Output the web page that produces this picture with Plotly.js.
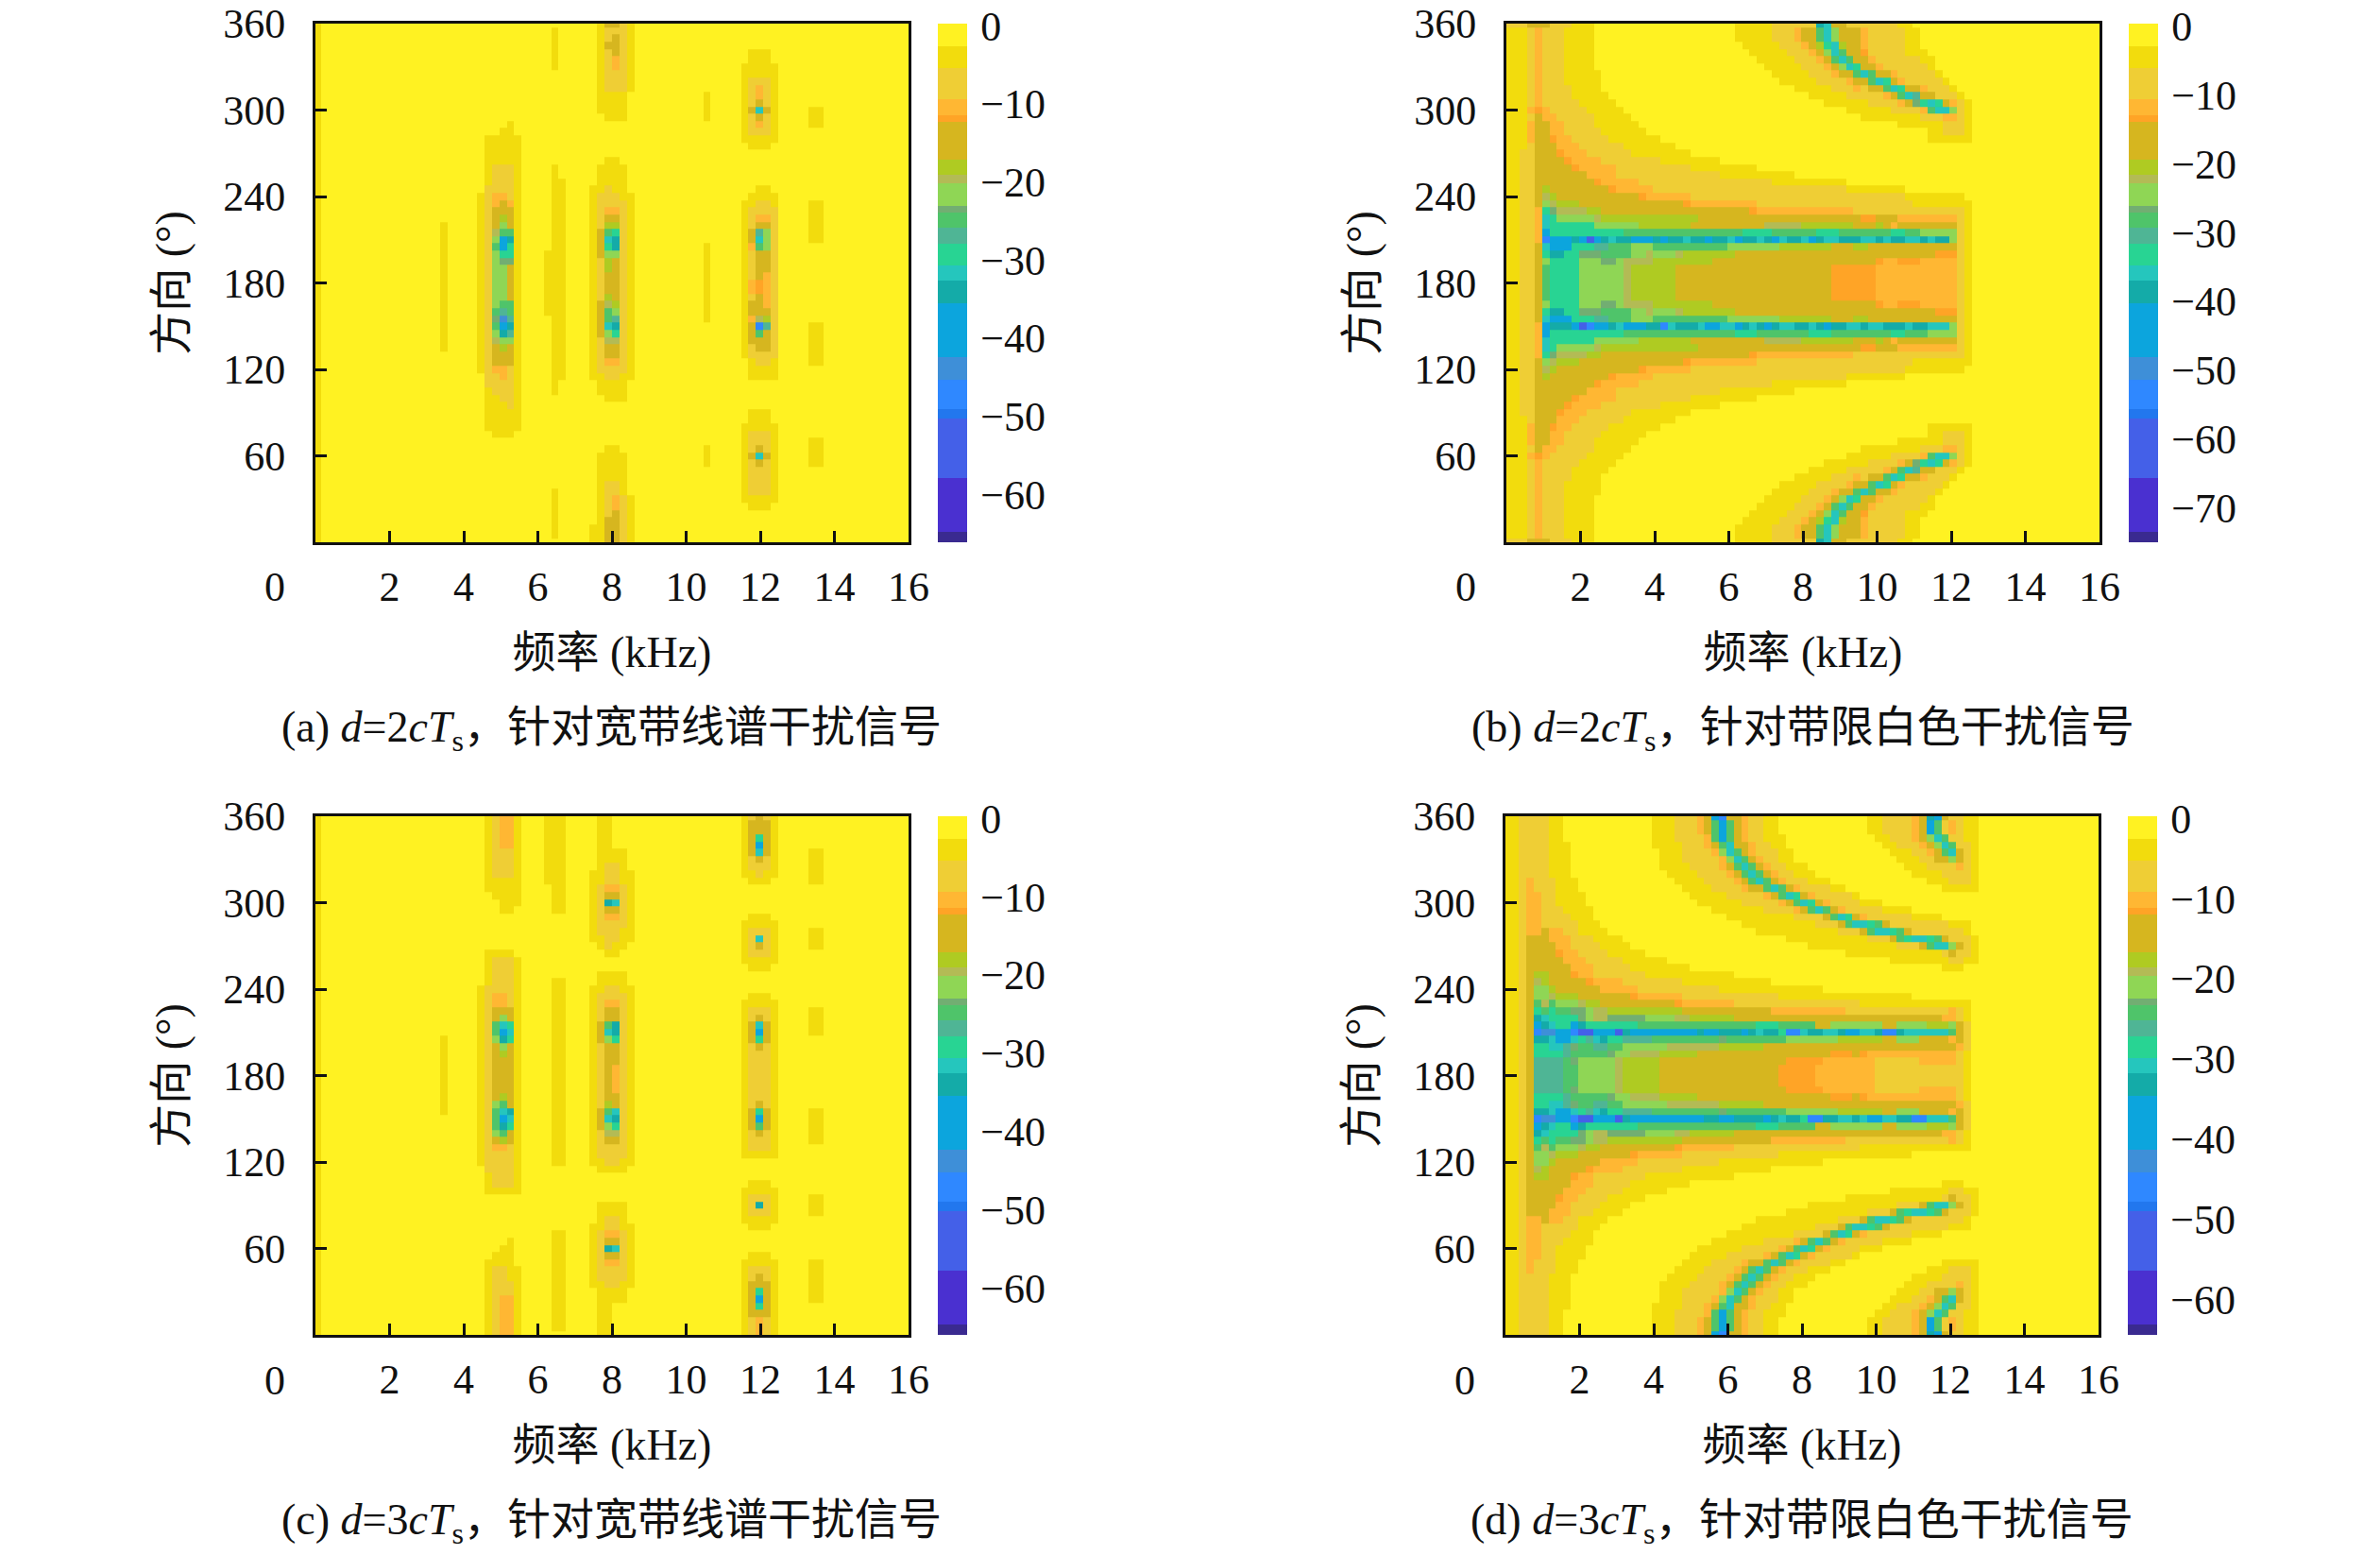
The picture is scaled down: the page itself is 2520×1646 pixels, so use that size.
<!DOCTYPE html>
<html>
<head>
<meta charset="utf-8">
<script src="https://cdn.plot.ly/plotly-3.0.1.min.js"></script>
<style>html,body{margin:0;background:#fff}</style>
</head>
<body>
<div id="chart"></div>
<script>
// colormap bands, top of the colour bar first; edges are fractions of the bar
const bandKeys = '0123456789abcdefghijkl'
const bandColors = ['#FFF222', '#F2DC0D', '#EFCE35', '#FFB733', '#FFA426', '#D6B61F', '#AFCB22', '#B3BB55', '#8FD655', '#72AE72', '#4FC46A', '#4FB595', '#28D493', '#25C6BD', '#14ABA8', '#0CA5DD', '#3E8FD8', '#2F88FF', '#2277EE', '#4460E8', '#4A30D0', '#3A2A90']
const bandEdges = [0, .043, .086, .146, .176, .189, .262, .292, .307, .351, .365, .394, .424, .467, .496, .540, .643, .686, .744, .761, .877, .980, 1]

const dirs = Array.from({ length: 73 }, (_, i) => i * 5)
const freqTicks = [2, 4, 6, 8, 10, 12, 14, 16]
const dirTicks = [60, 120, 180, 240, 300, 360]
const freqLine = [0, .16, 3.36, 3.56, 4.36, 4.56, 4.76, 4.96, 5.16, 5.36, 5.56, 6.16, 6.36, 6.56, 6.76, 7.4, 7.6, 7.8, 8, 8.2, 8.4, 8.6, 10.46, 10.66, 11.48, 11.68, 11.88, 12.08, 12.28, 12.48, 13.3, 13.5, 13.7, 16]
const freqWhite = [0].concat(Array.from({ length: 80 }, (_, i) => .16 + i * .2), [16])

// rows from 360 down to 0, one group per active frequency column
const rowsA = [
  '1 0 000000 000 015521 0 00000 00', '1 0 000000 010 012221 0 00000 00', '1 0 000000 010 012521 0 00000 00',
  '1 0 000000 010 015521 0 00000 00', '1 0 000000 010 012521 0 01110 00', '1 0 000000 010 012321 0 01110 00',
  '1 0 000000 010 012321 0 11111 00', '1 0 000000 000 012221 0 11111 00', '1 0 000000 000 012221 0 12221 00',
  '1 0 000000 000 012221 0 12321 00', '1 0 000000 000 011110 1 12321 00', '1 0 000000 000 011110 1 12521 00',
  '1 0 000000 000 011110 1 15d51 11', '1 0 000000 000 001110 1 12521 11', '1 0 000010 000 000000 0 12321 11',
  '1 0 000110 000 000000 0 12221 00', '1 0 011111 000 000000 0 11111 00', '1 0 011111 000 000000 0 01110 00',
  '1 0 011111 000 000000 0 00000 00', '1 0 011111 000 001100 0 00000 00', '1 0 012221 010 011110 0 00000 00',
  '1 0 012221 010 011110 0 00000 00', '1 0 012221 011 011110 0 00000 00', '1 0 022221 011 112110 0 00110 00',
  '1 0 123321 011 122211 0 01111 00', '1 0 123531 011 122221 0 11221 11', '1 0 125551 011 123321 0 12222 11',
  '1 0 125651 011 125521 0 12332 11', '1 1 125851 011 126621 0 12552 11', '1 1 127aa1 011 15ac21 0 15b82 11',
  '1 1 128fe1 011 15de21 0 15d82 11', '1 1 12afc1 011 15ce21 1 13a82 00', '1 1 128cc1 111 158821 1 12552 00',
  '1 1 128991 111 126521 1 12552 00', '1 1 128851 111 126521 1 12552 00', '1 1 128851 111 125521 1 12532 00',
  '1 1 128851 111 125521 1 13432 00', '1 1 128851 111 125521 1 13432 00', '1 1 128851 111 126521 1 12532 00',
  '1 1 128aa1 111 157621 1 15532 00', '1 1 12aba1 111 15a821 1 15552 00', '1 1 129gb1 011 15ab21 1 13762 00',
  '1 1 12afe1 011 15de21 0 15hb2 11', '1 1 128eb1 011 158c21 0 15a52 11', '1 1 127881 011 127721 0 15552 11',
  '1 1 125651 011 125521 0 12552 11', '1 0 125551 011 125521 0 12222 11', '1 0 125551 011 123321 0 01221 11',
  '1 0 123321 011 122221 0 01111 00', '1 0 022321 011 112211 0 01111 00', '1 0 022221 010 011110 0 00000 00',
  '1 0 012221 010 011110 0 00000 00', '1 0 011221 000 001110 0 00000 00', '1 0 011121 000 000000 0 00000 00',
  '1 0 011111 000 000000 0 01110 00', '1 0 011111 000 000000 0 01110 00', '1 0 011111 000 000000 0 11111 00',
  '1 0 001110 000 000000 0 12221 00', '1 0 000000 000 000000 0 12221 11', '1 0 000000 000 001100 1 12521 11',
  '1 0 000000 000 011110 1 15d51 11', '1 0 000000 000 011110 1 12521 11', '1 0 000000 000 011110 0 12221 00',
  '1 0 000000 000 011110 0 12221 00', '1 0 000000 000 012210 0 12221 00', '1 0 000000 010 012210 0 12221 00',
  '1 0 000000 010 012321 0 11111 00', '1 0 000000 010 012321 0 01110 00', '1 0 000000 010 012521 0 00000 00',
  '1 0 000000 010 015521 0 00000 00', '1 0 000000 010 115521 0 00000 00', '1 0 000000 010 115521 0 00000 00',
  '1 0 000000 000 115521 0 00000 00',
]

const rowsC = [
  '1 0 012331 111 011000 0 12521 00', '1 0 012331 111 011000 0 15551 00', '1 0 012331 111 011000 0 15551 00',
  '1 0 012331 111 011000 0 15c51 00', '1 0 012331 111 011000 0 15f51 00', '1 0 012221 111 011110 0 15d51 11',
  '1 0 012221 111 011110 0 12521 11', '1 0 012221 111 012210 0 12221 11', '1 0 012221 111 112211 0 11211 11',
  '1 0 011111 111 112211 0 01110 11', '1 0 011111 011 123321 0 00000 00', '1 0 001111 011 125521 0 00000 00',
  '1 0 000111 011 12ed21 0 00000 00', '1 0 000110 011 125521 0 00000 00', '1 0 000000 000 123321 0 01110 00',
  '1 0 000000 000 122221 0 11111 00', '1 0 000000 000 122211 0 12221 11', '1 0 000000 000 112211 0 12d21 11',
  '1 0 000000 000 012110 0 12521 11', '1 0 011110 000 001100 0 12221 00', '1 0 012221 000 000000 0 11111 00',
  '1 0 012221 000 000000 0 01110 00', '1 0 012221 000 011110 0 00000 00', '1 0 012221 011 011110 0 00000 00',
  '1 0 122221 011 112211 0 00000 00', '1 0 123321 011 122221 0 01110 00', '1 0 123321 011 123321 0 11111 00',
  '1 0 125551 011 125521 0 12221 11', '1 0 125851 011 125521 0 12521 11', '1 0 12adc1 011 15ae21 0 15d51 11',
  '1 0 12afd1 011 15de21 0 15f51 11', '1 1 128ec1 011 158c21 0 15c51 00', '1 1 125851 011 125521 0 12521 00',
  '1 1 125651 011 125521 0 12221 00', '1 1 125551 011 125521 0 12221 00', '1 1 125551 011 125321 0 12221 00',
  '1 1 125551 011 125321 0 12221 00', '1 1 125551 011 125321 0 12221 00', '1 1 125551 011 125321 0 12221 00',
  '1 1 125651 011 125521 0 12221 00', '1 1 128a51 011 126521 0 12521 00', '1 1 12ade1 011 15ad21 0 15c51 11',
  '1 0 12afd1 011 15de21 0 15f51 11', '1 0 12aec1 011 158c21 0 15a51 11', '1 0 128a51 011 127721 0 12521 11',
  '1 0 125651 011 125521 0 12221 11', '1 0 123321 011 122221 0 12221 00', '1 0 122221 011 122221 0 11111 00',
  '1 0 122221 011 112211 0 00000 00', '1 0 022221 000 011110 0 00000 00', '1 0 012221 000 000000 0 00000 00',
  '1 0 012221 000 000000 0 01110 00', '1 0 011111 000 000000 0 11111 00', '1 0 000000 000 000000 0 12221 11',
  '1 0 000000 000 011110 0 12e21 11', '1 0 000000 000 011110 0 12221 11', '1 0 000000 000 012210 0 11111 00',
  '1 0 000000 000 112211 0 01110 00', '1 0 000000 011 123321 0 00000 00', '1 0 000010 011 125521 0 00000 00',
  '1 0 000110 011 12ed21 0 00000 00', '1 0 001110 011 125521 0 01110 00', '1 0 011110 011 123321 0 11111 11',
  '1 0 012211 011 122221 0 12221 11', '1 0 012211 011 122221 0 12521 11', '1 0 012221 011 112211 0 15551 11',
  '1 0 012221 011 011110 0 15c51 11', '1 0 012331 011 011110 0 15f51 11', '1 0 012331 011 011000 0 15c51 00',
  '1 0 012331 011 011000 0 15551 00', '1 0 012331 011 011000 0 12321 00', '1 0 012331 011 011000 0 12321 00',
  '1 0 012331 000 011000 0 12321 00',
]

// rows from 0 up to 360, as level x run length
const rowsB = [
  '2x3 5x3 2x3 1x3 0x19 1x5 2x6 e d 5x2 2x7 1x2',
  '1x3 2 3 2x3 1x4 0x19 1x5 2x3 3 5x2 a d 8 5x3 3 2x5 1x2',
  '1x3 2 3 2x3 1x4 0x19 1x5 2x3 3 5x2 a d 8 5x3 3 2x5 1x2',
  '1x3 2 3 2x3 1x4 0x20 1x5 2x3 3 5 6 c d 6 5x2 3 2x5 1x2',
  '1x3 2 3 2x3 1x4 0x21 1x5 2x3 3 5 8 d a 5x2 4 2x5 1x3',
  '1x3 2 3 2x3 1x4 0x22 1x5 2x3 3 5 a d a 5x2 3 2x6 1x2',
  '1x3 2 3 2x3 1x4 0x23 1x5 2x3 3 5 8 d c 5x2 3 2x6 1',
  '1x3 2 3 2x3 1x5 0x23 1x5 2x3 3 5x2 a d a 5x2 3 2x5 1',
  '1x3 2 3 2x3 1x5 0x24 1x5 2x4 3 5x2 a d c 5 3 2x5 1',
  '1x3 2 3 2x4 1x4 0x26 1x5 2x3 3 2 5x2 a d c 5x2 3 2x3 1',
  '1x3 2 3 2x4 1x5 0x27 1x5 2x5 3 5 a d b 5x2 2x3 1',
  '1x3 2 3 2x5 1x5 0x28 1x6 2x4 3 5 9 c d c 5 3 2 1',
  '1x3 3 4 3 2x5 1x5 0x30 1x6 2x4 3 a d x2 8 2 1'.replace('d x2', 'dx2'),
  '1x3 2 5 3x2 2x5 1x5 0x31 1x8 2x3 3x2 2 1',
  '1x3 3 5x2 3x2 2x4 1x6 0x35 1x6 2x3 1',
  '1x3 3 5x2 3x2 2x5 1x6 0x38 1x2 2x3 1',
  '1x3 3 5x2 4 3x2 2x5 1x7 0x36 1x6',
  '1x3 2 5x3 3x3 2x6 1x7',
  '1x2 2x2 5x3 4 3x3 2x6 1x8',
  '1x2 2x2 5x4 4 3x4 2x8 1x8',
  '1x2 2x2 5x5 4 3x5 2x10 1x9',
  '1x2 2x2 5x7 3x4 2x14 1x10',
  '1x2 2x2 5x8 4 3x5 2x18 1x10',
  '1x2 2x2 5 6 5x8 4 3x5 2x26 1x8',
  '1x2 2x2 5 7 6 5x11 4 3x6 2x29 1x8',
  '1x2 2x2 5 8 7 6x3 5x14 4 3x9 2x21 1x8',
  '1x2 2x2 3 c 9 7x4 6x2 5x20 4 3x13 2x15 1',
  '1x2 2x2 3 d c 8x5 7 6x13 5x22 4x2 5x3 3x8 2 1',
  '1x2 2x2 3 d cx6 8x6 6x7 5x10 7x5 6x7 5x3 6 5 3 5x8 2 1',
  '1x2 2x2 3 f cx4 cx6 ax8 ax7 cx3 ax2 ax5 cx3 ax3 ax5 cx2 ax3 8x4 2 1',
  '1x2 2x2 3 f ex3 f j h fx2 e d fx3 ex2 h d ex3 d fx2 dx2 f e d e f e dx2 ex2 d e f ex2 dx2 e dx2 ex3 d ex2 dx3 8 2 1',
  '1x2 2x2 5 d fx3 cx3 bx2 ax3 8x3 ax2 ax8 8x7 6x7 5x3 6x2 5x12 2 1',
  '1x2 2x2 5 c ex2 cx2 9x3 ax4 8x2 7 8x3 7 6x7 5x27 4x3 2 1',
  '1x2 2x2 5 8 cx4 8x3 9x2 8 7x4 6x8 5x22 4 3x2 4x3 3x5 2 1',
  '1x2 2x2 5 a cx4 8x6 7 6x6 5x21 4x6 3x11 2 1',
  '1x2 2x2 5 a cx4 8x6 7 6x6 5x21 4x6 3x11 2 1',
  '1x2 2x2 5 a cx4 8x6 7 6x6 5x21 4x6 3x11 2 1',
  '1x2 2x2 5 a cx4 8x6 7 6x6 5x21 4x6 3x11 2 1',
  '1x2 2x2 5 a cx4 8x6 7 6x6 5x21 4x6 3x11 2 1',
  '1x2 2x2 5 8 cx4 8x3 9x2 8 7x4 6x8 5x22 4 3x2 4x3 3x5 2 1',
  '1x2 2x2 5 c ex2 cx2 9x3 ax4 8x2 7 8x3 7 6x7 5x27 4x3 2 1',
  '1x2 2x2 5 d fx3 cx3 bx2 ax3 8x3 ax2 ax8 8x7 6x7 5x3 6x2 5x12 2 1',
  '1x2 2x2 3 h fx3 e f j f e d ex2 fx3 e f ex2 d ex2 f ex2 d f ex2 d e f d ex2 d f e dx2 ex3 dx2 e d ex2 dx2 e d ex2 8 2 1',
  '1x2 2x2 3 f cx4 cx6 ax8 ax8 cx4 ax4 ax2 cx3 ax3 ax4 cx2 ax2 8x5 2 1',
  '1x2 2x2 3 d cx6 8x6 6x7 5x10 7x5 6x7 5x3 6 5 3 5x8 2 1',
  '1x2 2x2 3 d c 8x5 7 6x13 5x22 4x2 5x3 3x8 2 1',
  '1x2 2x2 3 c 9 7x4 6x2 5x20 4 3x13 2x15 1',
  '1x2 2x2 5 8 7 6x3 5x14 4 3x9 2x21 1x8',
  '1x2 2x2 5 7 6 5x11 4 3x6 2x29 1x8',
  '1x2 2x2 5 6 5x8 4 3x5 2x26 1x8',
  '1x2 2x2 5x8 4 3x5 2x18 1x10',
  '1x2 2x2 5x7 3x4 2x14 1x10',
  '1x2 2x2 5x5 4 3x5 2x10 1x9',
  '1x2 2x2 5x4 4 3x4 2x8 1x8',
  '1x2 2x2 5x3 4 3x3 2x6 1x8',
  '1x3 2 5x3 3x3 2x6 1x7',
  '1x3 3 5x2 4 3x2 2x5 1x7 0x36 1x6',
  '1x3 3 5x2 3x2 2x5 1x6 0x38 1x2 2x3 1',
  '1x3 3 5x2 3x2 2x4 1x6 0x35 1x6 2x3 1',
  '1x3 2 5 3x2 2x5 1x5 0x31 1x8 2x3 3x2 2 1',
  '1x3 3 4 3 2x5 1x5 0x30 1x6 2x4 3 a dx2 8 2 1',
  '1x3 2 3 2x5 1x5 0x28 1x6 2x4 3 5 9 c d c 5 3 2 1',
  '1x3 2 3 2x4 1x5 0x27 1x5 2x5 3 5 a d b 5x2 2x3 1',
  '1x3 2 3 2x4 1x4 0x26 1x5 2x3 3 2 5x2 a d c 5x2 3 2x3 1',
  '1x3 2 3 2x3 1x5 0x24 1x5 2x4 3 5x2 a d c 5 3 2x5 1',
  '1x3 2 3 2x3 1x5 0x23 1x5 2x3 3 5x2 a d a 5x2 3 2x5 1',
  '1x3 2 3 2x3 1x4 0x23 1x5 2x3 3 5 8 d c 5x2 3 2x6 1',
  '1x3 2 3 2x3 1x4 0x22 1x5 2x3 3 5 a d a 5x2 3 2x6 1x2',
  '1x3 2 3 2x3 1x4 0x21 1x5 2x3 3 5 8 d a 5x2 4 2x5 1x3',
  '1x3 2 3 2x3 1x4 0x20 1x5 2x3 3 5 6 c d 6 5x2 3 2x5 1x2',
  '1x3 2 3 2x3 1x4 0x19 1x5 2x3 3 5x2 a d 8 5x3 3 2x5 1x2',
  '1x3 2 3 2x3 1x4 0x19 1x5 2x3 3 5x2 a d 8 5x3 3 2x5 1x2',
  '2x3 5x3 2x3 1x3 0x19 1x5 2x6 e d 5x2 2x7 1x2',
]

const rowsD = [
  '1x2 2x4 1x2 0x12 1x3 2x3 3 5 f h 5x2 3 2x2 1x2 0x12 1x2 2x4 3 5 e f 5 2x2 1x2',
  '1x2 2x4 1x2 0x12 1x3 2x3 3 5 a f a 5 3 2x2 1x2 0x12 1x2 2x4 3 5 f a 2 3 2 1x2',
  '1x2 2x4 1x2 0x12 1x3 2x3 3 5 a f a 5 3 2x2 1x2 0x12 1x2 2x4 3 5 f a 2 3 2 1x2',
  '1x2 2x4 1x2 0x12 1x3 2x4 3 a f a 5 3 2x2 1x3 0x12 1x2 2x3 3 5 8 d a 2x2 1x2',
  '1x2 2x4 1x3 0x11 1x4 2x3 3 5 a d 5x2 3 2x2 1x2 0x13 1x2 2x3 3 5 8 d a 2x2 1',
  '1x2 2x4 1x3 0x12 1x3 2x4 3 8 d a 5 3 2x3 1x2 0x13 1x3 2x2 3 5 a d 5 2 1',
  '1x2 2x4 1x3 0x12 1x3 2x5 3 8 d a 5 3 2x2 1x2 0x14 1x3 2x2 5x2 8 5 2 1',
  '1x2 2x4 1x3 0x12 1x4 2x4 3 5 a d a 5 3 2x2 1x3 0x13 1x3 2x4 3 2 1',
  '1x2 2x4 1x3 0x13 1x4 2x4 3 5 a d a 5 3 2x2 1x3 0x13 1x4 2x4 1',
  '1x2 2 3 2x3 1x3 0x13 1x4 2x4 3 5 a d a 5 3 2x3 1x3 0x13 1x3 2x3 1',
  '1x2 2 3 2x3 1x3 0x14 1x4 2x4 3 5x2 a d a 5 3 2x4 1x2 0x13 1x5',
  '1x2 2 3x2 2x2 1x4 0x14 1x5 2x5 3 5 a d c 5 3 2x5 1',
  '1x2 2 3x2 2x2 1x4 0x15 1x6 2x5 3 5 a d c 5 3 2x4 1x3',
  '1x2 2 3x2 2x3 1x4 0x16 1x7 2x4 3 5 a d a 5 3 2x5 1x4',
  '1x2 2 3x2 2x4 1x3 0x18 1x9 2x4 5 a d c 5 3 2x6 1x4',
  '1x2 2 3x2 2x5 1x3 0x19 1x10 2x3 5 a dx2 c a 5 2x8 1x3',
  '1x2 2 3x2 5 3x2 2x2 1x4 0x20 1x11 2x3 5 a dx2 c a 5 2x7 1',
  '1x2 2 5x3 3x3 2x3 1x4 0x22 1x11 2x3 5 a c dx2 c a 5 2x3 1',
  '1x2 2 5x4 3x2 2x4 1x4 0x24 1x12 2x3 5 a dx2 8 5 2 1',
  '1x2 2 5x4 4 3x2 2x4 1x5 0x27 1x13 2 5 2x2 1',
  '1x2 2 5x5 3x3 2x5 1x6 0x30 1x8 2x2 1x2',
  '1x2 2 5x6 3x3 2x5 1x8 0x34 1x3',
  '1x2 2 5 6x2 5x3 4 3x2 2x7 1x12',
  '1x2 2 5 7 6 5x5 4 3x4 2x8 1x12',
  '1x2 2 5 8x2 6 5x6 3x5 2x11 1x14',
  '1x2 2 5 8x2 7 6x3 5x7 4 3x6 2x13 1x18',
  '1x2 2 5 a 7 a 8x3 7 6x2 5x10 4 3x7 2x17 1x15',
  '1x2 2 5 c a c ax2 9x2 8 7x2 6x10 5x12 3x10 2x14 3 2 1',
  '1x2 2 5 e d cx4 9 8 7x2 9x5 8x4 7x2 6x6 5x28 3x2 2 1',
  '1x2 2 5 f e d cx2 f e c cx6 ax8 ax8 cx3 ax5 5x2 8x7 5x2 8x4 6x3 8 5 2',
  '1x2 2 5 h gx2 fx2 h jx2 fx3 j e fx10 ex2 fx2 ex4 f e d ex2 c hx2 ex2 dx2 e d fx2 dx2 ex2 hx2 dx3 a 5 2',
  '1x2 2 5 ex2 d fx2 d c b d e cx2 bx4 ax9 9 ax8 8x7 6x6 5x2 8x3 5x4 3 5 2',
  '1x2 2 5 cx2 dx2 b 9 ax2 bx2 ax2 8x6 7x7 6x6 5x26 3 2',
  '1x2 2 5 cx4 b ax5 9 8x2 7x4 6x5 5x18 4x3 5 4 3x12 2 1',
  '1x2 2 5 bx4 a 9 8x5 7 6x5 5x17 4x5 3x7 2x6 3x5 2 1',
  '1x2 2 5 bx4 ax2 8x5 7 6x5 5x16 4x5 3x8 2x12 1',
  '1x2 2 5 bx4 ax2 8x5 7 6x5 5x16 4x5 3x8 2x12 1',
  '1x2 2 5 bx4 ax2 8x5 7 6x5 5x16 4x5 3x8 2x12 1',
  '1x2 2 5 bx4 a 9 8x5 7 6x5 5x17 4x5 3x7 2x6 3x5 2 1',
  '1x2 2 5 cx4 b ax5 9 8x2 7x4 6x5 5x18 4x3 5 4 3x12 2 1',
  '1x2 2 5 cx2 dx2 b 9 ax2 bx2 ax2 8x6 7x7 6x6 5x26 3 2',
  '1x2 2 5 ex2 d fx2 d c b d e cx2 bx4 ax9 9 ax8 8x7 6x6 5x2 8x3 5x4 3 5 2',
  '1x2 2 5 h gx2 fx2 h jx2 fx3 j e fx9 e fx2 ex3 f e d ex2 c hx2 d ex2 dx2 e fx2 dx2 e hx2 e dx6 a 5 2',
  '1x2 2 5 f e d cx2 f e c cx6 ax8 ax8 cx3 ax5 5x2 8x7 5x2 8x4 6x3 8 5 2',
  '1x2 2 5 e d cx4 9 8 7x2 9x5 8x4 7x2 6x6 5x28 3x2 2 1',
  '1x2 2 5 c a c ax2 9x2 8 7x2 6x10 5x12 3x10 2x14 3 2 1',
  '1x2 2 5 a 7 a 8x3 7 6x2 5x10 4 3x7 2x17 1x15',
  '1x2 2 5 8x2 7 6x3 5x7 4 3x6 2x13 1x18',
  '1x2 2 5 8x2 6 5x6 3x5 2x11 1x14',
  '1x2 2 5 7 6 5x5 4 3x4 2x8 1x12',
  '1x2 2 5 6x2 5x3 4 3x2 2x7 1x12',
  '1x2 2 5x6 3x3 2x5 1x8 0x34 1x3',
  '1x2 2 5x5 3x3 2x5 1x6 0x30 1x8 2x2 1x2',
  '1x2 2 5x4 4 3x2 2x4 1x5 0x27 1x13 2 5 2x2 1',
  '1x2 2 5x4 3x2 2x4 1x4 0x24 1x12 2x3 5 a dx2 8 5 2 1',
  '1x2 2 5x3 3x3 2x3 1x4 0x22 1x11 2x3 5 a c dx2 c a 5 2x3 1',
  '1x2 2 3x2 5 3x2 2x2 1x4 0x20 1x11 2x3 5 a dx2 c a 5 2x7 1',
  '1x2 2 3x2 2x5 1x3 0x19 1x10 2x3 5 a dx2 c a 5 2x8 1x3',
  '1x2 2 3x2 2x4 1x3 0x18 1x9 2x4 5 a d c 5 3 2x6 1x4',
  '1x2 2 3x2 2x3 1x4 0x16 1x7 2x4 3 5 a d a 5 3 2x5 1x4',
  '1x2 2 3x2 2x2 1x4 0x15 1x6 2x5 3 5 a d c 5 3 2x4 1x3',
  '1x2 2 3x2 2x2 1x4 0x14 1x5 2x5 3 5 a d c 5 3 2x5 1',
  '1x2 2 3 2x3 1x3 0x14 1x4 2x4 3 5x2 a d a 5 3 2x4 1x2 0x13 1x5',
  '1x2 2 3 2x3 1x3 0x13 1x4 2x4 3 5 a d a 5 3 2x3 1x3 0x13 1x3 2x3 1',
  '1x2 2x4 1x3 0x13 1x4 2x4 3 5 a d a 5 3 2x2 1x3 0x13 1x4 2x4 1',
  '1x2 2x4 1x3 0x12 1x4 2x4 3 5 a d a 5 3 2x2 1x3 0x13 1x3 2x4 3 2 1',
  '1x2 2x4 1x3 0x12 1x3 2x5 3 8 d a 5 3 2x2 1x2 0x14 1x3 2x2 5x2 8 5 2 1',
  '1x2 2x4 1x3 0x12 1x3 2x4 3 8 d a 5 3 2x3 1x2 0x13 1x3 2x2 3 5 a d 5 2 1',
  '1x2 2x4 1x3 0x11 1x4 2x3 3 5 a d 5x2 3 2x2 1x2 0x13 1x2 2x3 3 5 8 d a 2x2 1',
  '1x2 2x4 1x2 0x12 1x3 2x4 3 a f a 5 3 2x2 1x3 0x12 1x2 2x3 3 5 8 d a 2x2 1x2',
  '1x2 2x4 1x2 0x12 1x3 2x3 3 5 a f a 5 3 2x2 1x2 0x12 1x2 2x4 3 5 f a 2 3 2 1x2',
  '1x2 2x4 1x2 0x12 1x3 2x3 3 5 a f a 5 3 2x2 1x2 0x12 1x2 2x4 3 5 f a 2 3 2 1x2',
  '1x2 2x4 1x2 0x12 1x3 2x3 3 5 f h 5x2 3 2x2 1x2 0x12 1x2 2x4 3 5 e f 5 2x2 1x2',
]

const W = 2520
const H = 1646
const serif = '"Liberation Serif", "Noto Sans CJK SC", serif'
const tickFont = { family: serif, size: 44, color: '#111111' }
const textFont = { family: serif, size: 46, color: '#111111' }

// one panel per picture: pixel box of the axes, colour bar range and caption
const panels = [
  { rows: rowsA.slice().reverse().map(groupRow), x: freqLine, left: 333, top: 24, zTop: .34, zBottom: -66.06, ticks: [0, -10, -20, -30, -40, -50, -60], caption: '(a) <i>d</i>=2<i>cT</i><sub>s</sub>，针对宽带线谱干扰信号' },
  { rows: rowsB.map(runRow), x: freqWhite, left: 1594, top: 24, zTop: .4, zBottom: -74.9, ticks: [0, -10, -20, -30, -40, -50, -60, -70], caption: '(b) <i>d</i>=2<i>cT</i><sub>s</sub>，针对带限白色干扰信号' },
  { rows: rowsC.slice().reverse().map(groupRow), x: freqLine, left: 333, top: 863, zTop: .34, zBottom: -65.96, ticks: [0, -10, -20, -30, -40, -50, -60], caption: '(c) <i>d</i>=3<i>cT</i><sub>s</sub>，针对宽带线谱干扰信号' },
  { rows: rowsD.map(runRow), x: freqWhite, left: 1593, top: 863, zTop: .34, zBottom: -64.36, ticks: [0, -10, -20, -30, -40, -50, -60], caption: '(d) <i>d</i>=3<i>cT</i><sub>s</sub>，针对带限白色干扰信号' },
]

function groupRow(row) {
  return row.split(' ').join('0') + '0'
}

function runRow(row) {
  const cells = row.split(' ').map((t) => t.length > 1 ? t[0].repeat(Number(t.slice(2))) : t).join('')
  return cells.padEnd(freqWhite.length - 1, '0')
}

function bandScale() {
  const scale = []
  for (let b = bandColors.length - 1; b >= 0; b--) {
    scale.push([1 - bandEdges[b + 1], bandColors[b]], [1 - bandEdges[b], bandColors[b]])
  }
  return scale
}

function bandValue(key, p) {
  const b = bandKeys.indexOf(key)
  return p.zTop - (bandEdges[b] + bandEdges[b + 1]) / 2 * (p.zTop - p.zBottom)
}

const data = []
const layout = {
  width: W,
  height: H,
  margin: { t: 0, r: 0, b: 0, l: 0 },
  paper_bgcolor: '#ffffff',
  plot_bgcolor: '#ffffff',
  font: tickFont,
  showlegend: false,
  annotations: [],
}

panels.forEach((p, i) => {
  const n = i === 0 ? '' : String(i + 1)
  data.push({
    type: 'heatmap',
    xaxis: 'x' + n,
    yaxis: 'y' + n,
    x: p.x,
    y: dirs,
    z: p.rows.map((r) => Array.from(r).map((k) => bandValue(k, p))),
    zmin: p.zBottom,
    zmax: p.zTop,
    zsmooth: false,
    colorscale: bandScale(),
    hoverinfo: 'skip',
    colorbar: {
      x: (p.left + 660) / W,
      xanchor: 'left',
      xpad: 0,
      y: 1 - (p.top + 275) / H,
      yanchor: 'middle',
      ypad: 0,
      len: 549,
      lenmode: 'pixels',
      thickness: 31,
      thicknessmode: 'pixels',
      outlinewidth: 0,
      tickmode: 'array',
      tickvals: p.ticks,
      ticks: 'outside',
      ticklen: 6,
      tickwidth: 1,
      tickcolor: 'rgba(0,0,0,0)',
      tickfont: tickFont,
    },
  })
  layout['xaxis' + n] = {
    domain: [(p.left + 1) / W, (p.left + 629) / W],
    range: [0, 16],
    anchor: 'y' + n,
    tickmode: 'array',
    tickvals: freqTicks,
    ticks: 'inside',
    ticklen: 12,
    tickwidth: 3,
    tickcolor: '#111111',
    ticklabelstandoff: 6,
    tickfont: tickFont,
    showgrid: false,
    zeroline: false,
    showline: true,
    mirror: true,
    linecolor: '#111111',
    linewidth: 3,
    title: { text: '频率 (kHz)', font: textFont, standoff: 30 },
  }
  layout['yaxis' + n] = {
    domain: [1 - (p.top + 550) / H, 1 - (p.top + 1) / H],
    range: [0, 360],
    anchor: 'x' + n,
    tickmode: 'array',
    tickvals: dirTicks,
    ticks: 'inside',
    ticklen: 12,
    tickwidth: 3,
    tickcolor: '#111111',
    ticklabelstandoff: 20,
    tickfont: tickFont,
    showgrid: false,
    zeroline: false,
    showline: true,
    mirror: true,
    linecolor: '#111111',
    linewidth: 3,
    title: { text: '方向 (°)', font: textFont, standoff: 25 },
  }
  // the x axis zero sits left of the corner in the source figure
  layout.annotations.push({
    xref: 'x' + n, yref: 'y' + n, x: 0, y: 0, text: '0', showarrow: false,
    xshift: -43, yshift: -48, font: tickFont,
  })
  layout.annotations.push({
    xref: 'paper', yref: 'paper', x: (p.left + 315) / W, y: 1 - (p.top + 744) / H, text: p.caption, showarrow: false,
    xanchor: 'center', yanchor: 'middle', yshift: -5, font: textFont,
  })
})

Plotly.newPlot('chart', data, layout, { staticPlot: true, displayModeBar: false })
</script>
</body>
</html>
